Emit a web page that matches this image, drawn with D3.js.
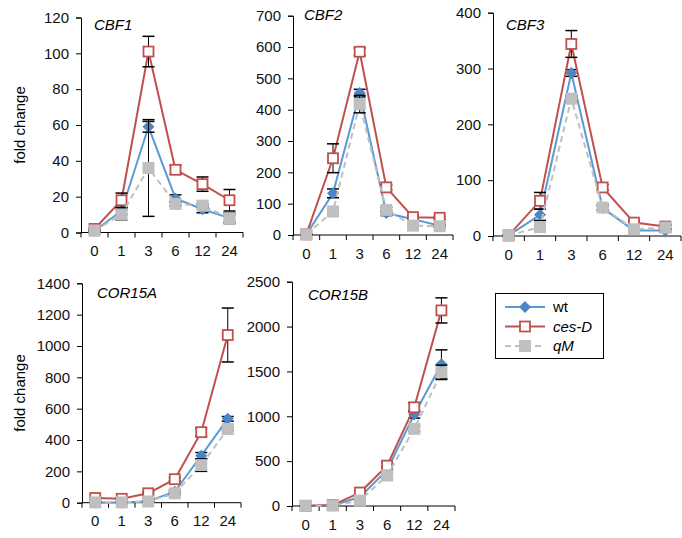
<!DOCTYPE html>
<html>
<head>
<meta charset="utf-8">
<script src="https://cdn.jsdelivr.net/npm/d3@7"></script>
<style>
  body { margin: 0; background: #fff; }
  svg { font-family: "Liberation Sans", Arial, sans-serif; }
</style>
</head>
<body>
<svg id="chart" width="682" height="538"></svg>
<script>
const hours = ["0", "1", "3", "6", "12", "24"];

// CBF1
const cbf1Wt = [1, 12, 59, 19, 13, 8];
const cbf1WtErr = [0.5, 2, 3, 2, 2, 2];
const cbf1Ces = [2, 18, 101, 35, 27, 18];
const cbf1CesErr = [0.5, 4, 8.5, 2.5, 4, 6];
const cbf1Qm = [1, 10, 36, 16, 15, 8];
const cbf1QmErr = [0.5, 3, 27, 1, 1, 3];

// CBF2
const cbf2Wt = [2, 133, 453, 70, 50, 30];
const cbf2WtErr = [1, 14, 12, 8, 5, 4];
const cbf2Ces = [2, 245, 585, 152, 57, 55];
const cbf2CesErr = [1, 46, 12, 8, 5, 5];
const cbf2Qm = [2, 75, 418, 80, 30, 28];
const cbf2QmErr = [1, 8, 28, 8, 4, 4];

// CBF3
const cbf3Wt = [1, 38, 292, 50, 10, 10];
const cbf3WtErr = [0.5, 10, 6, 4, 3, 3];
const cbf3Ces = [1, 63, 344, 87, 24, 17];
const cbf3CesErr = [0.5, 15, 24, 5, 3, 4];
const cbf3Qm = [1, 16, 246, 51, 12, 15];
const cbf3QmErr = [0.5, 3, 5, 5, 3, 4];

// COR15A
const cor15aWt = [2, 2, 10, 70, 300, 535];
const cor15aWtErr = [1, 1, 3, 10, 20, 15];
const cor15aCes = [30, 25, 60, 150, 450, 1070];
const cor15aCesErr = [5, 4, 8, 10, 25, 172];
const cor15aQm = [2, 2, 8, 60, 240, 470];
const cor15aQmErr = [1, 1, 3, 8, 40, 10];

// COR15B
const cor15bWt = [2, 5, 100, 400, 1020, 1580];
const cor15bWtErr = [1, 2, 20, 40, 40, 160];
const cor15bCes = [2, 10, 150, 450, 1100, 2180];
const cor15bCesErr = [1, 3, 20, 40, 50, 140];
const cor15bQm = [2, 5, 60, 340, 860, 1490];
const cor15bQmErr = [1, 2, 20, 40, 30, 80];

const seriesNames = ["wt", "ces-D", "qM"];

const panels = [
    { title: "CBF1", max: 120, step: 20, x0: 81, x1: 243, yTop: 17.5, yBot: 232.5, tx: 94, ty: 30, ylab: true,
      data: [[cbf1Wt, cbf1WtErr], [cbf1Ces, cbf1CesErr], [cbf1Qm, cbf1QmErr]] },
    { title: "CBF2", max: 700, step: 100, x0: 293, x1: 453, yTop: 15.7, yBot: 235, tx: 304, ty: 20,
      data: [[cbf2Wt, cbf2WtErr], [cbf2Ces, cbf2CesErr], [cbf2Qm, cbf2QmErr]] },
    { title: "CBF3", max: 400, step: 100, x0: 493, x1: 681, yTop: 12.7, yBot: 236, tx: 506, ty: 30,
      data: [[cbf3Wt, cbf3WtErr], [cbf3Ces, cbf3CesErr], [cbf3Qm, cbf3QmErr]] },
    { title: "COR15A", max: 1400, step: 200, x0: 82, x1: 241, yTop: 283.3, yBot: 502.7, tx: 97, ty: 298, ylab: true,
      data: [[cor15aWt, cor15aWtErr], [cor15aCes, cor15aCesErr], [cor15aQm, cor15aQmErr]] },
    { title: "COR15B", max: 2500, step: 500, x0: 292, x1: 455, yTop: 281.7, yBot: 506, tx: 308, ty: 300,
      data: [[cor15bWt, cor15bWtErr], [cor15bCes, cor15bCesErr], [cor15bQm, cor15bQmErr]] }
];

const styles = [
    { stroke: "#5b9bd5", dash: null, marker: "diamond", fill: "#4a86c8", mstroke: "#4a86c8" },
    { stroke: "#c0504d", dash: null, marker: "open", fill: "#fff", mstroke: "#c0504d" },
    { stroke: "#bfbfbf", dash: "6,4", marker: "square", fill: "#bfbfbf", mstroke: "#bfbfbf" }
];

const svg = d3.select("#chart");

function drawMarker(g, type, x, y, st) {
    if (type === "diamond") {
        g.append("path")
            .attr("d", `M${x},${y - 6}L${x + 6},${y}L${x},${y + 6}L${x - 6},${y}Z`)
            .attr("fill", st.fill);
    } else if (type === "open") {
        g.append("rect")
            .attr("x", x - 5).attr("y", y - 5)
            .attr("width", 10).attr("height", 10)
            .attr("fill", "#fff")
            .attr("stroke", st.mstroke)
            .attr("stroke-width", 1.8);
    } else {
        g.append("rect")
            .attr("x", x - 6).attr("y", y - 6)
            .attr("width", 12).attr("height", 12)
            .attr("fill", st.fill);
    }
}

panels.forEach(p => {
    const g = svg.append("g");
    const x = d3.scaleBand().domain(hours).range([p.x0, p.x1]);
    const y = d3.scaleLinear().domain([0, p.max]).range([p.yBot, p.yTop]);

    // axes
    const yAxis = d3.axisLeft(y).tickValues(d3.range(0, p.max + 1, p.step))
        .tickFormat(d3.format("d")).tickSize(5).tickPadding(7);
    g.append("g").attr("transform", `translate(${p.x0},0)`).call(yAxis);

    const xAxis = d3.axisBottom(x).tickSize(0).tickPadding(13);
    const xg = g.append("g").attr("transform", `translate(0,${p.yBot})`).call(xAxis);
    xg.select(".domain").attr("d", `M${p.x0},0H${p.x1}`);
    const bounds = hours.map(h => x(h)).concat([p.x1]);
    xg.selectAll(".bound").data(bounds).enter().append("line")
        .attr("x1", d => d).attr("x2", d => d)
        .attr("y1", 0).attr("y2", 5)
        .attr("stroke", "#000");

    g.selectAll(".tick text").attr("font-size", 15).attr("fill", "#111")
        .attr("font-family", "Liberation Sans, Arial, sans-serif");
    g.selectAll(".domain, .tick line").attr("stroke", "#000");

    // title
    g.append("text")
        .attr("x", p.tx).attr("y", p.ty)
        .attr("font-size", 15).attr("font-style", "italic")
        .text(p.title);

    if (p.ylab) {
        g.append("text")
            .attr("transform", `translate(25,${(p.yTop + p.yBot) / 2}) rotate(-90)`)
            .attr("text-anchor", "middle")
            .attr("font-size", 15)
            .text("fold change");
    }

    const cx = h => x(h) + x.bandwidth() / 2;

    p.data.forEach(([vals, errs], si) => {
        const st = styles[si];
        const pts = vals.map((v, i) => ({ h: hours[i], v: v, e: errs[i] }));
        const line = d3.line().x(d => cx(d.h)).y(d => y(d.v));
        g.append("path")
            .datum(pts)
            .attr("fill", "none")
            .attr("stroke", st.stroke)
            .attr("stroke-width", 2)
            .attr("stroke-dasharray", st.dash)
            .attr("d", line);

        // error bars
        pts.forEach(d => {
            const xc = cx(d.h);
            const yh = y(d.v + d.e), yl = y(Math.max(0, d.v - d.e));
            g.append("line").attr("x1", xc).attr("x2", xc).attr("y1", yh).attr("y2", yl)
                .attr("stroke", "#000").attr("stroke-width", 1);
            [yh, yl].forEach(yy => {
                g.append("line").attr("x1", xc - 6).attr("x2", xc + 6).attr("y1", yy).attr("y2", yy)
                    .attr("stroke", "#000").attr("stroke-width", 1.5);
            });
        });

        pts.forEach(d => drawMarker(g, st.marker, cx(d.h), y(d.v), st));
    });
});

// legend
const leg = svg.append("g");
leg.append("rect")
    .attr("x", 495.5).attr("y", 293.5).attr("width", 108).attr("height", 65)
    .attr("fill", "#fff").attr("stroke", "#000").attr("stroke-width", 1);
seriesNames.forEach((name, i) => {
    const st = styles[i];
    const yy = 307 + i * 19.5;
    leg.append("line")
        .attr("x1", 505).attr("x2", 545).attr("y1", yy).attr("y2", yy)
        .attr("stroke", st.stroke).attr("stroke-width", 2)
        .attr("stroke-dasharray", st.dash);
    drawMarker(leg, st.marker, 525, yy, st);
    leg.append("text")
        .attr("x", 553).attr("y", yy + 5)
        .attr("font-size", 15)
        .attr("font-style", i === 0 ? "normal" : "italic")
        .text(name);
});
</script>
</body>
</html>
